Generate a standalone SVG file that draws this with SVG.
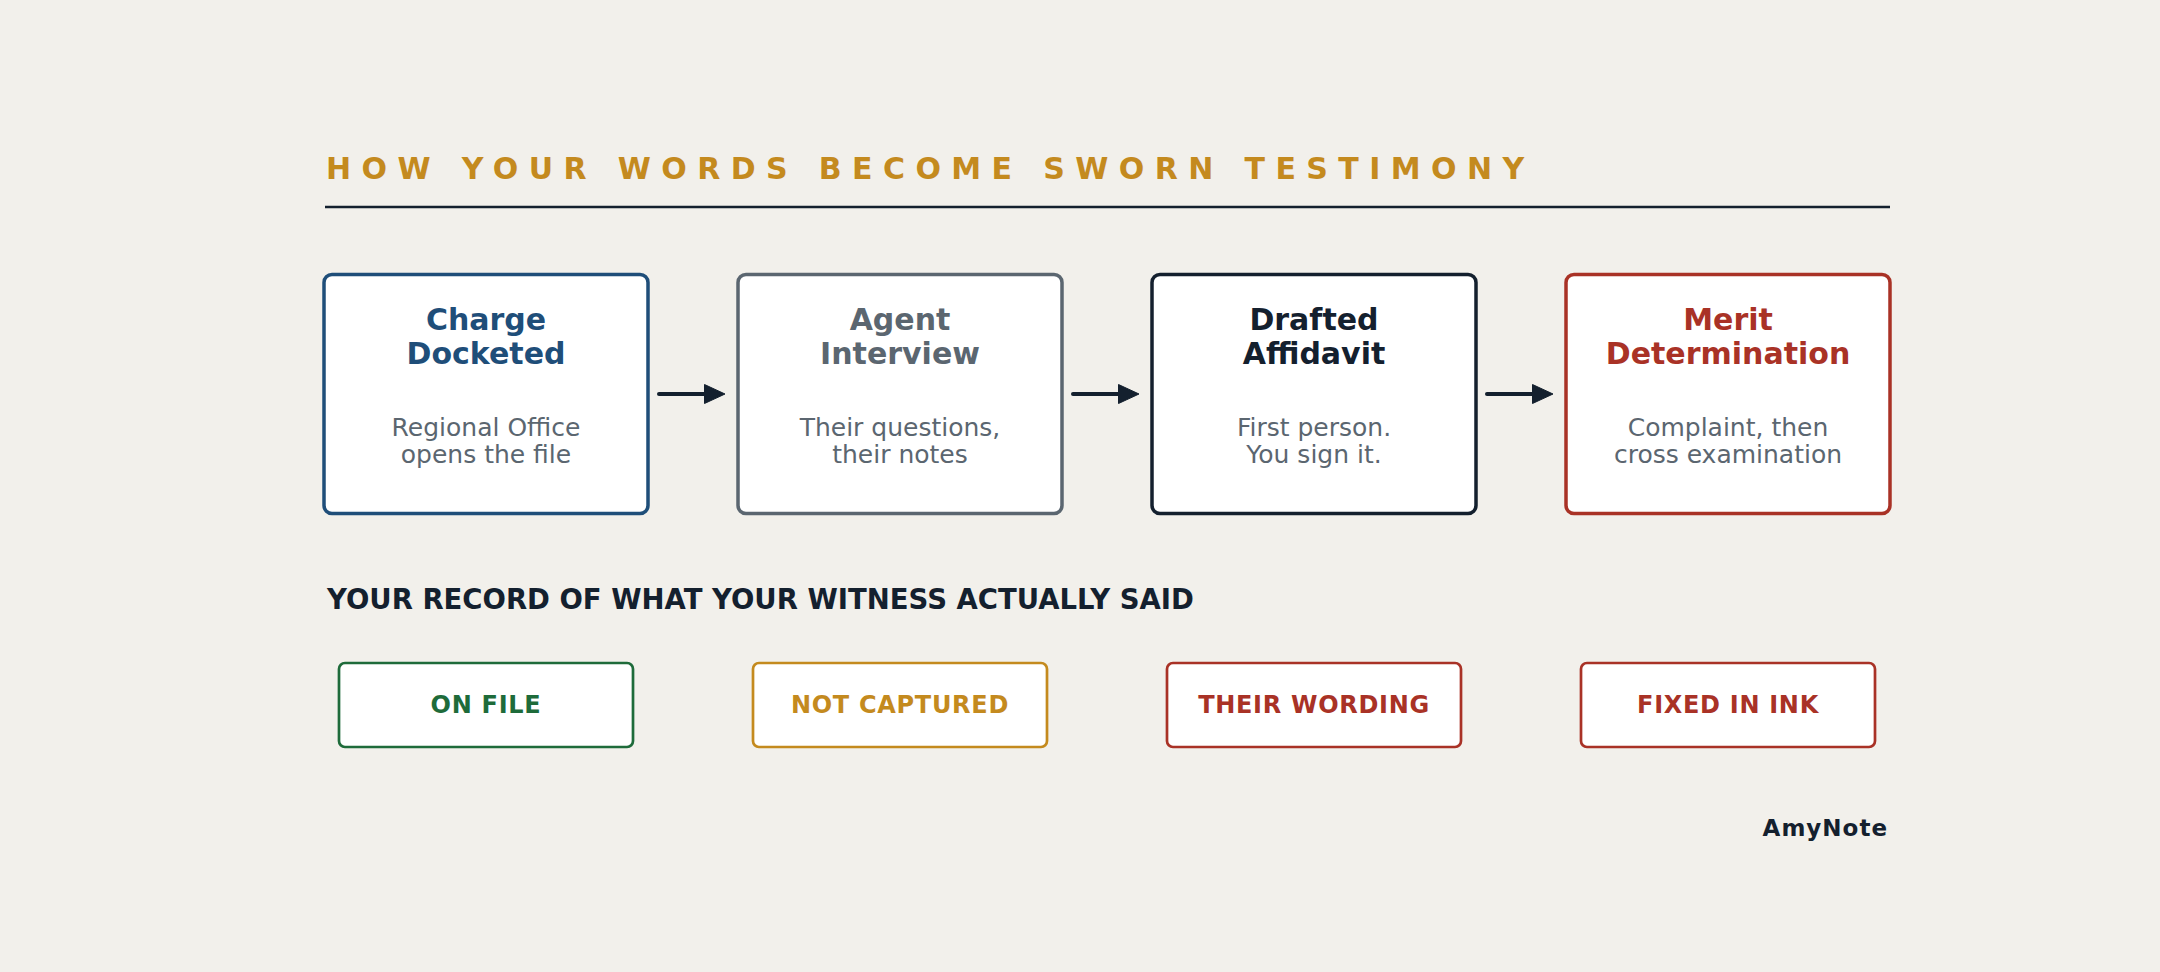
<svg xmlns="http://www.w3.org/2000/svg" width="2160" height="972" viewBox="0 0 2160 972">
<style>
.bg{fill:#f2f0eb}
.card{fill:#ffffff;stroke-width:3.5}
.tag{fill:#ffffff;stroke-width:2.7}
.ttl{font-family:"DejaVu Sans",sans-serif;font-weight:bold;font-size:30px;text-anchor:middle}
.sub{font-family:"DejaVu Sans",sans-serif;font-size:25px;fill:#5b6670;text-anchor:middle}
.tagt{font-family:"DejaVu Sans",sans-serif;font-weight:bold;font-size:24px;text-anchor:middle;letter-spacing:0.7px}
.conn{stroke:#14202e;stroke-width:4;fill:none;stroke-linecap:round}
</style>
<defs>
<marker id="ah" markerUnits="userSpaceOnUse" markerWidth="22" markerHeight="22" refX="6" refY="10" orient="auto">
<path d="M0.5,0.5 L21,10 L0.5,19.5 Z" fill="#14202e" stroke="#14202e" stroke-width="1" stroke-linejoin="round"/>
</marker>
</defs>
<rect class="bg" x="0" y="0" width="2160" height="972"/>
<g id="header">
<text x="326" y="179" font-family="DejaVu Sans, sans-serif" font-weight="bold" font-size="30" fill="#c48a1e" letter-spacing="10.4">HOW YOUR WORDS BECOME SWORN TESTIMONY</text>
<line x1="325" y1="207" x2="1890" y2="207" stroke="#14202e" stroke-width="2.5"/>
</g>
<g id="node-charge-docketed">
<rect class="card" x="324" y="274.5" width="324" height="239" rx="8" stroke="#1f4e79"/>
<text class="ttl" fill="#1f4e79"><tspan x="486" y="329.5">Charge</tspan><tspan x="486" y="363.5">Docketed</tspan></text>
<text class="sub"><tspan x="486" y="436">Regional Office</tspan><tspan x="486" y="463">opens the file</tspan></text>
</g>
<g id="node-agent-interview">
<rect class="card" x="738" y="274.5" width="324" height="239" rx="8" stroke="#5b6670"/>
<text class="ttl" fill="#5b6670"><tspan x="900" y="329.5">Agent</tspan><tspan x="900" y="363.5">Interview</tspan></text>
<text class="sub"><tspan x="900" y="436">Their questions,</tspan><tspan x="900" y="463">their notes</tspan></text>
</g>
<g id="node-drafted-affidavit">
<rect class="card" x="1152" y="274.5" width="324" height="239" rx="8" stroke="#14202e"/>
<text class="ttl" fill="#14202e"><tspan x="1314" y="329.5">Drafted</tspan><tspan x="1314" y="363.5">Affidavit</tspan></text>
<text class="sub"><tspan x="1314" y="436">First person.</tspan><tspan x="1314" y="463">You sign it.</tspan></text>
</g>
<g id="node-merit-determination">
<rect class="card" x="1566" y="274.5" width="324" height="239" rx="8" stroke="#a93226"/>
<text class="ttl" fill="#a93226"><tspan x="1728" y="329.5">Merit</tspan><tspan x="1728" y="363.5">Determination</tspan></text>
<text class="sub"><tspan x="1728" y="436">Complaint, then</tspan><tspan x="1728" y="463">cross examination</tspan></text>
</g>
<g id="connectors">
<line class="conn" x1="659" y1="394" x2="710" y2="394" marker-end="url(#ah)"/>
<line class="conn" x1="1073" y1="394" x2="1124" y2="394" marker-end="url(#ah)"/>
<line class="conn" x1="1487" y1="394" x2="1538" y2="394" marker-end="url(#ah)"/>
</g>
<g id="section-heading">
<text x="327" y="609" font-family="DejaVu Sans, sans-serif" font-weight="bold" font-size="27.5" fill="#14202e">YOUR RECORD OF WHAT YOUR WITNESS ACTUALLY SAID</text>
</g>
<g id="tag-on-file">
<rect class="tag" x="339" y="663" width="294" height="84" rx="6" stroke="#1e6b3a"/>
<text class="tagt" x="486" y="713" fill="#1e6b3a">ON FILE</text>
</g>
<g id="tag-not-captured">
<rect class="tag" x="753" y="663" width="294" height="84" rx="6" stroke="#c48a1e"/>
<text class="tagt" x="900" y="713" fill="#c48a1e">NOT CAPTURED</text>
</g>
<g id="tag-their-wording">
<rect class="tag" x="1167" y="663" width="294" height="84" rx="6" stroke="#a93226"/>
<text class="tagt" x="1314" y="713" fill="#a93226">THEIR WORDING</text>
</g>
<g id="tag-fixed-in-ink">
<rect class="tag" x="1581" y="663" width="294" height="84" rx="6" stroke="#a93226"/>
<text class="tagt" x="1728" y="713" fill="#a93226">FIXED IN INK</text>
</g>
<g id="brand">
<text x="1888" y="836" font-family="DejaVu Sans, sans-serif" font-weight="bold" font-size="23" fill="#14202e" text-anchor="end" letter-spacing="1">AmyNote</text>
</g>
</svg>
